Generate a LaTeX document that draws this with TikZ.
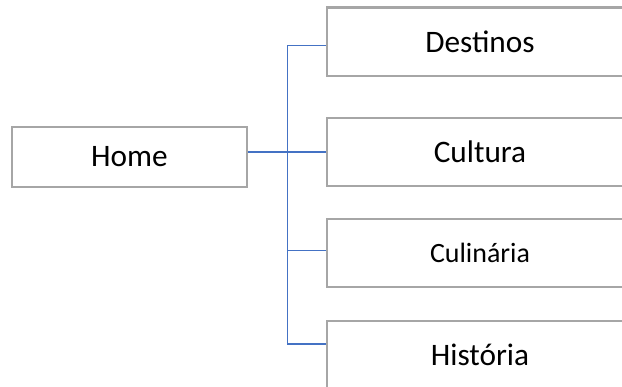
\documentclass[tikz,border=0pt]{standalone}
\usepackage{fontspec}
\setmainfont{Carlito}
\usepackage{xcolor}
\usepackage{tikz}
\usetikzlibrary{positioning}
\definecolor{boxgray}{HTML}{A6A6A6}
\definecolor{linkblue}{HTML}{4472C4}
\tikzset{page-node/.style={draw=boxgray,line width=1.3pt,fill=white,minimum width=6.12cm,minimum height=1.37cm,font=\fontsize{17.8}{20}\selectfont}}
\tikzset{home-node/.style={page-node,minimum width=4.7cm,minimum height=1.2cm}}
\tikzset{link-line/.style={draw=linkblue,line width=0.6pt}}

\begin{document}
\begin{tikzpicture}[]
            \useasboundingbox (0,0) rectangle (12.44,7.74);
            \clip (0,0) rectangle (12.44,7.74);

            \node [home-node] (home) at (2.59, 4.6) {Home};
            \node [page-node] (destinos) at (9.6, 6.905) {Destinos};
            \node [page-node] (cultura) at (9.6, 4.7) {Cultura};
            \node [page-node, font=\fontsize{15.9}{18}\selectfont] (culinaria) at (9.6, 2.68) {Culinária};
            \node [page-node] (historia) at (9.6, 0.64) {História};

            \coordinate (hub) at (5.75, 4.7);
            \coordinate (destinos-in) at ([yshift=-0.08cm]destinos.west);
            \coordinate (culinaria-in) at ([yshift=0.05cm]culinaria.west);
            \coordinate (historia-in) at ([yshift=0.22cm]historia.west);

            \draw [link-line] (home.east |- cultura.west) -- (cultura.west);
            \draw [link-line] (destinos-in) -| (hub) |- (historia-in);
            \draw [link-line] (culinaria-in) -- (hub |- culinaria-in);
        \end{tikzpicture}
\end{document}
